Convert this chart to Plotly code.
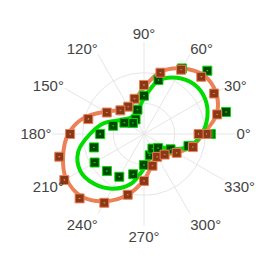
import plotly.graph_objects as go

theta = [0, 15, 30, 45, 60, 75, 90, 105, 120, 135, 150, 165, 180,
         195, 210, 225, 240, 255, 270, 285, 300, 315, 330, 345, 360]

orange_fit = [1.93, 2.45, 2.71, 2.73, 2.47, 2.10, 1.52, 1.15, 1.01, 1.11, 1.46, 2.03, 2.47,
              2.73, 2.93, 2.88, 2.53, 2.05, 1.50, 1.04, 0.85, 0.95, 1.21, 1.61, 1.93]
green_fit = [1.88, 2.14, 2.30, 2.30, 2.12, 1.80, 1.16, 0.80, 0.68, 0.72, 0.90, 1.36, 1.76,
             2.22, 2.40, 2.30, 2.06, 1.69, 1.12, 0.78, 0.62, 0.58, 0.98, 1.55, 1.88]
orange_obs = [2.04, 2.47, 2.64, 2.64, 2.42, 2.07, 1.60, 1.19, 1.03, 1.09, 1.40, 1.88, 2.41,
              2.86, 3.00, 2.97, 2.59, 2.05, 1.53, 1.07, 0.86, 0.95, 1.23, 1.65, 1.78]
green_obs = [2.18, 2.77, 3.03, 2.92, 2.47, 1.82, 1.25, 0.82, 0.55, 0.51, 0.74, 1.04, 1.43,
             1.69, 1.86, 1.71, 1.61, 1.36, 1.01, 0.72, 0.55, 0.65, 1.00, 1.50, 2.10]

ORANGE = "rgb(236,128,86)"
GREEN = "rgb(0,220,0)"
BROWN = "rgb(139,56,22)"
DKGREEN = "rgb(0,72,0)"

fig = go.Figure()
fig.add_trace(go.Scatterpolar(r=orange_fit, theta=theta, mode="lines",
                              line=dict(color=ORANGE, width=4, shape="spline")))
fig.add_trace(go.Scatterpolar(r=green_fit, theta=theta, mode="lines",
                              line=dict(color=GREEN, width=4, shape="spline")))
fig.add_trace(go.Scatterpolar(r=green_obs, theta=theta, mode="markers",
                              marker=dict(symbol="square-dot", size=9, color=DKGREEN,
                                          line=dict(color=GREEN, width=1))))
fig.add_trace(go.Scatterpolar(r=orange_obs, theta=theta, mode="markers",
                              marker=dict(symbol="square-dot", size=9, color=BROWN,
                                          line=dict(color=ORANGE, width=1))))

fig.update_layout(
    template="none",
    width=277, height=277,
    margin=dict(l=0, r=0, t=0, b=0),
    showlegend=False,
    paper_bgcolor="white",
    font=dict(family="Liberation Sans, Arial, sans-serif", size=15, color="#444"),
    polar=dict(
        domain=dict(x=[44 / 277, 228 / 277], y=[59 / 277, 243 / 277]),
        bgcolor="white",
        radialaxis=dict(range=[0, 3], dtick=1, showticklabels=False, ticks="",
                        showline=False, gridcolor="#e6e6e6"),
        angularaxis=dict(dtick=30, ticks="", showline=False, gridcolor="#e6e6e6",
                         direction="counterclockwise", rotation=0),
    ),
)
fig.write_html("out.html")
